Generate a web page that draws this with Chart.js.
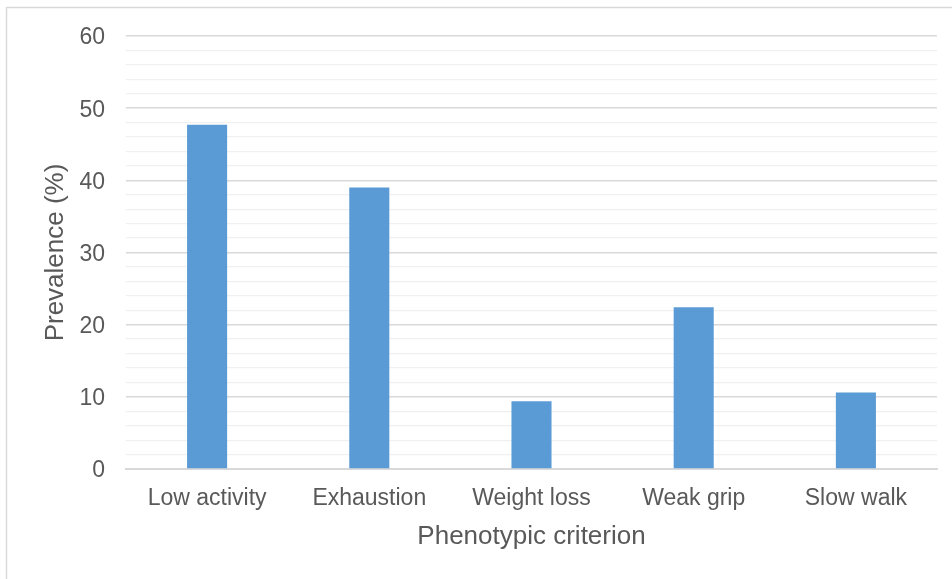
<!DOCTYPE html>
<html>
<head>
<meta charset="utf-8">
<script src="https://cdn.jsdelivr.net/npm/chart.js@4/dist/chart.umd.min.js"></script>
<style>
  html, body { margin: 0; padding: 0; background: #ffffff; }
  #wrap { position: relative; width: 952px; height: 579px; }
</style>
</head>
<body>
<div id="wrap"><canvas id="c" width="952" height="579"></canvas></div>
<script>
const categories = ["Low activity", "Exhaustion", "Weight loss", "Weak grip", "Slow walk"];
const prevalence = [47.7, 39.0, 9.4, 22.4, 10.6];
const yTickLabels = [0, 10, 20, 30, 40, 50, 60];
const xTitle = "Phenotypic criterion";
const yTitle = "Prevalence (%)";

const textColor = "#595959";
const fontFamily = "'Liberation Sans', Arial, sans-serif";

const framePlugin = {
  id: "frame",
  afterDraw(chart) {
    const ctx = chart.ctx;
    ctx.save();
    ctx.strokeStyle = "#d9d9d9";
    ctx.lineWidth = 1.5;
    ctx.beginPath();
    ctx.moveTo(6.5, 579);
    ctx.lineTo(6.5, 7.5);
    ctx.lineTo(952, 7.5);
    ctx.stroke();
    ctx.restore();
  }
};

new Chart(document.getElementById("c"), {
  type: "bar",
  data: {
    labels: categories,
    datasets: [{
      data: prevalence,
      backgroundColor: "#5b9bd5",
      borderWidth: 0,
      categoryPercentage: 1.0,
      barPercentage: 0.247
    }]
  },
  options: {
    responsive: false,
    animation: false,
    devicePixelRatio: 1,
    layout: { padding: { top: 36, right: 15, bottom: 0, left: 0 } },
    plugins: { legend: { display: false }, tooltip: { enabled: false } },
    scales: {
      x: {
        grid: { display: false, drawTicks: false },
        border: { display: true, color: "#d9d9d9", width: 2 },
        ticks: {
          color: textColor,
          font: { family: fontFamily, size: 23 },
          padding: 16,
          maxRotation: 0
        },
        title: {
          display: true,
          text: xTitle,
          color: textColor,
          font: { family: fontFamily, size: 26 },
          padding: { top: 0, bottom: 27 }
        },
        afterFit(scale) { scale.height = 110; }
      },
      y: {
        min: 0,
        max: 60,
        grid: {
          drawTicks: false,
          color: (c) => (c.tick && c.tick.value % 10 === 0) ? "#d9d9d9" : "#f0f0f0",
          lineWidth: (c) => (c.tick && c.tick.value % 10 === 0) ? 1.5 : 1.2
        },
        border: { display: false },
        ticks: {
          stepSize: 2,
          autoSkip: false,
          color: textColor,
          font: { family: fontFamily, size: 23 },
          padding: 21,
          labelOffset: 2,
          callback: (v) => yTickLabels.includes(v) ? String(v) : ""
        },
        title: {
          display: true,
          text: yTitle,
          color: textColor,
          font: { family: fontFamily, size: 26 },
          padding: { top: 40, bottom: 0 }
        },
        afterFit(scale) { scale.width = 126; }
      }
    }
  },
  plugins: [framePlugin]
});
</script>
</body>
</html>
